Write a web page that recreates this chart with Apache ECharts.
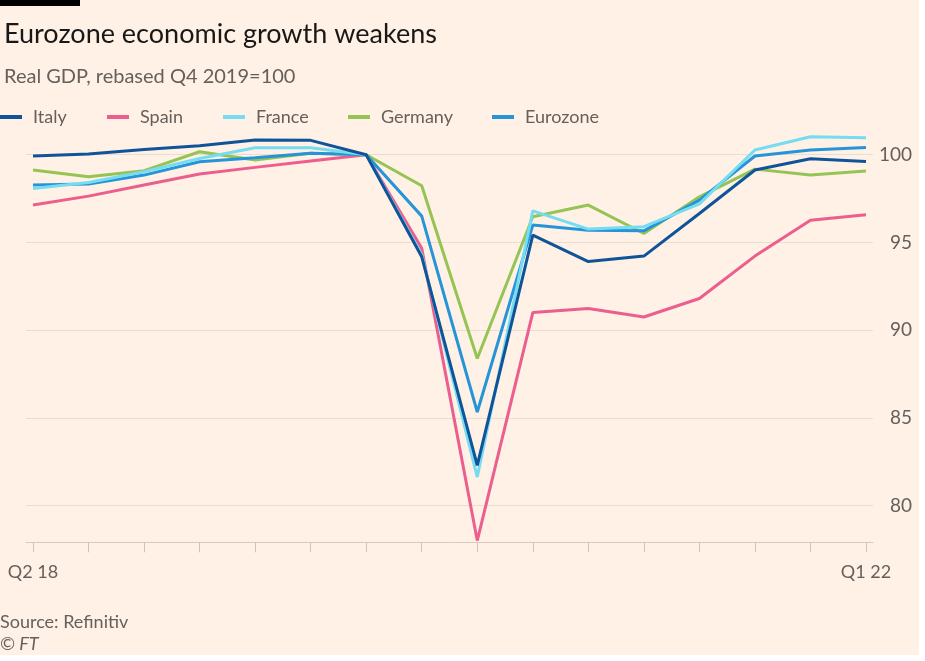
<!DOCTYPE html>
<html>
<head>
<meta charset="utf-8">
<script src="https://cdn.jsdelivr.net/npm/echarts@6/dist/echarts.min.js"></script>
<style>
  html, body { margin: 0; padding: 0; background: #ffffff; }
  #bg { position: absolute; left: 0; top: 0; width: 919px; height: 655px; background: #fff1e5; }
  #chart { position: absolute; left: 0; top: 0; width: 925px; height: 661px; }
</style>
</head>
<body>
<div id="bg"></div>
<div id="chart"></div>
<script>
const quarters = ['Q2 18','Q3 18','Q4 18','Q1 19','Q2 19','Q3 19','Q4 19','Q1 20','Q2 20','Q3 20','Q4 20','Q1 21','Q2 21','Q3 21','Q4 21','Q1 22'];
const italy    = [99.93, 100.04, 100.3, 100.51, 100.84, 100.82, 100.0, 94.18, 82.29, 95.42, 93.91, 94.22, 96.65, 99.13, 99.77, 99.62];
const spain    = [97.13, 97.64, 98.27, 98.9, 99.28, 99.64, 100.0, 94.66, 78.0, 91.0, 91.23, 90.75, 91.8, 94.22, 96.27, 96.58];
const france   = [98.08, 98.42, 99.03, 99.79, 100.4, 100.4, 100.0, 94.3, 81.62, 96.8, 95.76, 95.9, 97.2, 100.27, 101.03, 100.97];
const germany  = [99.13, 98.74, 99.09, 100.17, 99.7, 100.08, 100.0, 98.23, 88.38, 96.46, 97.13, 95.51, 97.6, 99.18, 98.84, 99.07];
const eurozone = [98.27, 98.33, 98.84, 99.6, 99.83, 100.08, 100.0, 96.5, 85.33, 95.99, 95.7, 95.66, 97.41, 99.93, 100.27, 100.42];
const seriesNames = ['Italy', 'Spain', 'France', 'Germany', 'Eurozone'];
const yMin = 77.9, yMax = 101.2;

const colors = { Italy: '#0f5499', Spain: '#eb5e8d', France: '#75dcf2', Germany: '#96c454', Eurozone: '#2594d8' };
const legendLeft = { Italy: 0, Spain: 107, France: 223, Germany: 348, Eurozone: 492 };
const textGrey = '#66605c';
const fontFam = 'Lato, "Noto Sans", sans-serif';

function mk(name, data, z) {
  return {
    name, type: 'line', data, xAxisIndex: 0, yAxisIndex: 0,
    symbol: 'none', z,
    lineStyle: { width: 3, color: colors[name] },
    itemStyle: { color: colors[name] }
  };
}

const legends = seriesNames.map(n => ({
  data: [n], left: legendLeft[n], top: 108, icon: 'rect', itemWidth: 22, itemHeight: 4,
  padding: 0,
  textStyle: { fontSize: 18, color: textGrey, fontFamily: fontFam, padding: [0, 0, 0, 6] }
}));

const chart = echarts.init(document.getElementById('chart'), null, { renderer: 'canvas' });
chart.setOption({
  backgroundColor: 'transparent',
  animation: false,
  textStyle: { fontFamily: fontFam },
  title: [
    { text: 'Eurozone economic growth weakens', left: -1, top: 16,
      textStyle: { fontSize: 27, fontWeight: 'normal', color: '#1a1817', fontFamily: fontFam } },
    { text: 'Real GDP, rebased Q4 2019=100', left: -1, top: 62,
      textStyle: { fontSize: 20, fontWeight: 'normal', color: textGrey, fontFamily: fontFam } }
  ],
  legend: legends,
  grid: [
    { left: 33, width: 833, top: 133.7, height: 408.6 },
    { left: 26, width: 847, top: 133.7, height: 408.6 }
  ],
  xAxis: [
    { type: 'category', gridIndex: 0, data: quarters, boundaryGap: false,
      axisLine: { show: false },
      axisTick: { show: true, length: 10, interval: 0, lineStyle: { color: '#cfc5bc' } },
      axisLabel: { interval: (i) => i === 0 || i === quarters.length - 1, margin: 21, fontSize: 18, color: textGrey, fontFamily: fontFam },
      splitLine: { show: false } },
    { type: 'value', gridIndex: 1, min: 0, max: 1,
      axisLine: { show: true, lineStyle: { color: '#d5cbc2', width: 1 } },
      axisTick: { show: false }, axisLabel: { show: false }, splitLine: { show: false } }
  ],
  yAxis: [
    { type: 'value', gridIndex: 0, position: 'right', min: yMin, max: yMax, splitNumber: 5,
      axisLine: { show: false }, axisTick: { show: false }, splitLine: { show: false },
      axisLabel: { align: 'right', margin: 46, fontSize: 19, color: textGrey, fontFamily: fontFam,
                   showMinLabel: false, showMaxLabel: false } },
    { type: 'value', gridIndex: 1, min: yMin, max: yMax, splitNumber: 5,
      axisLine: { show: false }, axisTick: { show: false }, axisLabel: { show: false },
      splitLine: { show: true, showMinLine: false, showMaxLine: false, lineStyle: { color: '#e9ddd2', width: 1 } } }
  ],
  graphic: [
    { type: 'rect', left: 0, top: 0, shape: { width: 80, height: 6 }, style: { fill: '#000000' } },
    { type: 'text', left: 0, top: 613, style: { text: 'Source: Refinitiv', font: '18px ' + fontFam, fill: textGrey } },
    { type: 'text', left: 0, top: 635, style: { text: '© FT', font: 'italic 18px ' + fontFam, fill: textGrey } }
  ],
  series: [
    mk('Italy', italy, 6),
    mk('Spain', spain, 2),
    mk('France', france, 5),
    mk('Germany', germany, 3),
    mk('Eurozone', eurozone, 4)
  ]
});
</script>
</body>
</html>
